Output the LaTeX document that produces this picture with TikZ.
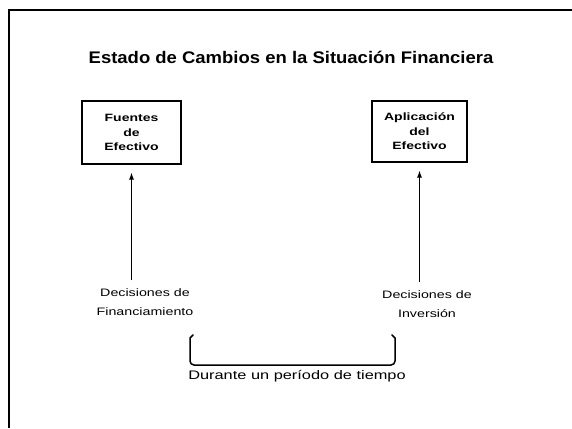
\documentclass[tikz,border=0pt]{standalone}
\usepackage{fontspec}
\setmainfont{Liberation Sans}
\newfontfamily\titlefont[FakeStretch=1.1]{Liberation Sans}
\newfontfamily\scanfont[FakeStretch=1.32]{Liberation Sans}
\usetikzlibrary{arrows,arrows.meta}
\usetikzlibrary{positioning, calc}

\begin{document}
\begin{tikzpicture}[x=1pt,y=-1pt,>={Latex[length=7pt,width=5pt]},
    fbox/.style={draw,line width=1.1pt,minimum width=99pt,minimum height=63pt,
      align=center,font=\scanfont\bfseries\fontsize{10.6}{14.5}\selectfont},
    declabel/.style={align=center,inner sep=1pt,font=\scanfont\fontsize{10.8}{19}\selectfont},
    arr/.style={->,line width=1.1pt,shorten >=8pt,shorten <=7pt}]
      \def\Bl{190}
      \def\Br{395}
      \def\Bt{335}
      \def\Bb{365}

      \useasboundingbox (0,0) rectangle (572,428);

      % FRAME
      \draw[line width=2.2pt] (9,428) -- (9,10) -- (572,10);

      % TITLE
      \node (title) at (291,57) {\titlefont\bfseries\fontsize{16.8}{20}\selectfont
        Estado de Cambios en la Situación Financiera};

      % BOXES
      \node[fbox] (fuentes) at (131.5,132.5) {Fuentes\\de\\Efectivo};
      \node[fbox,minimum width=95pt,minimum height=61pt] (aplic) at (419.5,131.5)
        {Aplicación\\del\\Efectivo};

      % DECISIONS
      \node[declabel] (decfin) at (145,302) {Decisiones de\\Financiamiento};
      \node[declabel] (decinv) at (427,304) {Decisiones de\\Inversión};

      \draw[arr] (fuentes.south |- decfin.north) -- (fuentes.south);
      \draw[arr] (aplic.south |- decinv.north) -- (aplic.south);

      % BRACE
      \draw[line width=1.5pt,line cap=round]
      (\Bl+3,\Bt) -- (\Bl,\Bt+3) -- (\Bl,\Bb-4) to[out=-90,in=180] (\Bl+4,\Bb)
      -- (\Br-4,\Bb) to[out=0,in=-90] (\Br,\Bb-4) -- (\Br,\Bt+3) -- (\Br-3,\Bt);
      \node[font=\scanfont\fontsize{12.4}{14}\selectfont] (periodo) at (297,376)
        {Durante un período de tiempo};
    \end{tikzpicture}
\end{document}
